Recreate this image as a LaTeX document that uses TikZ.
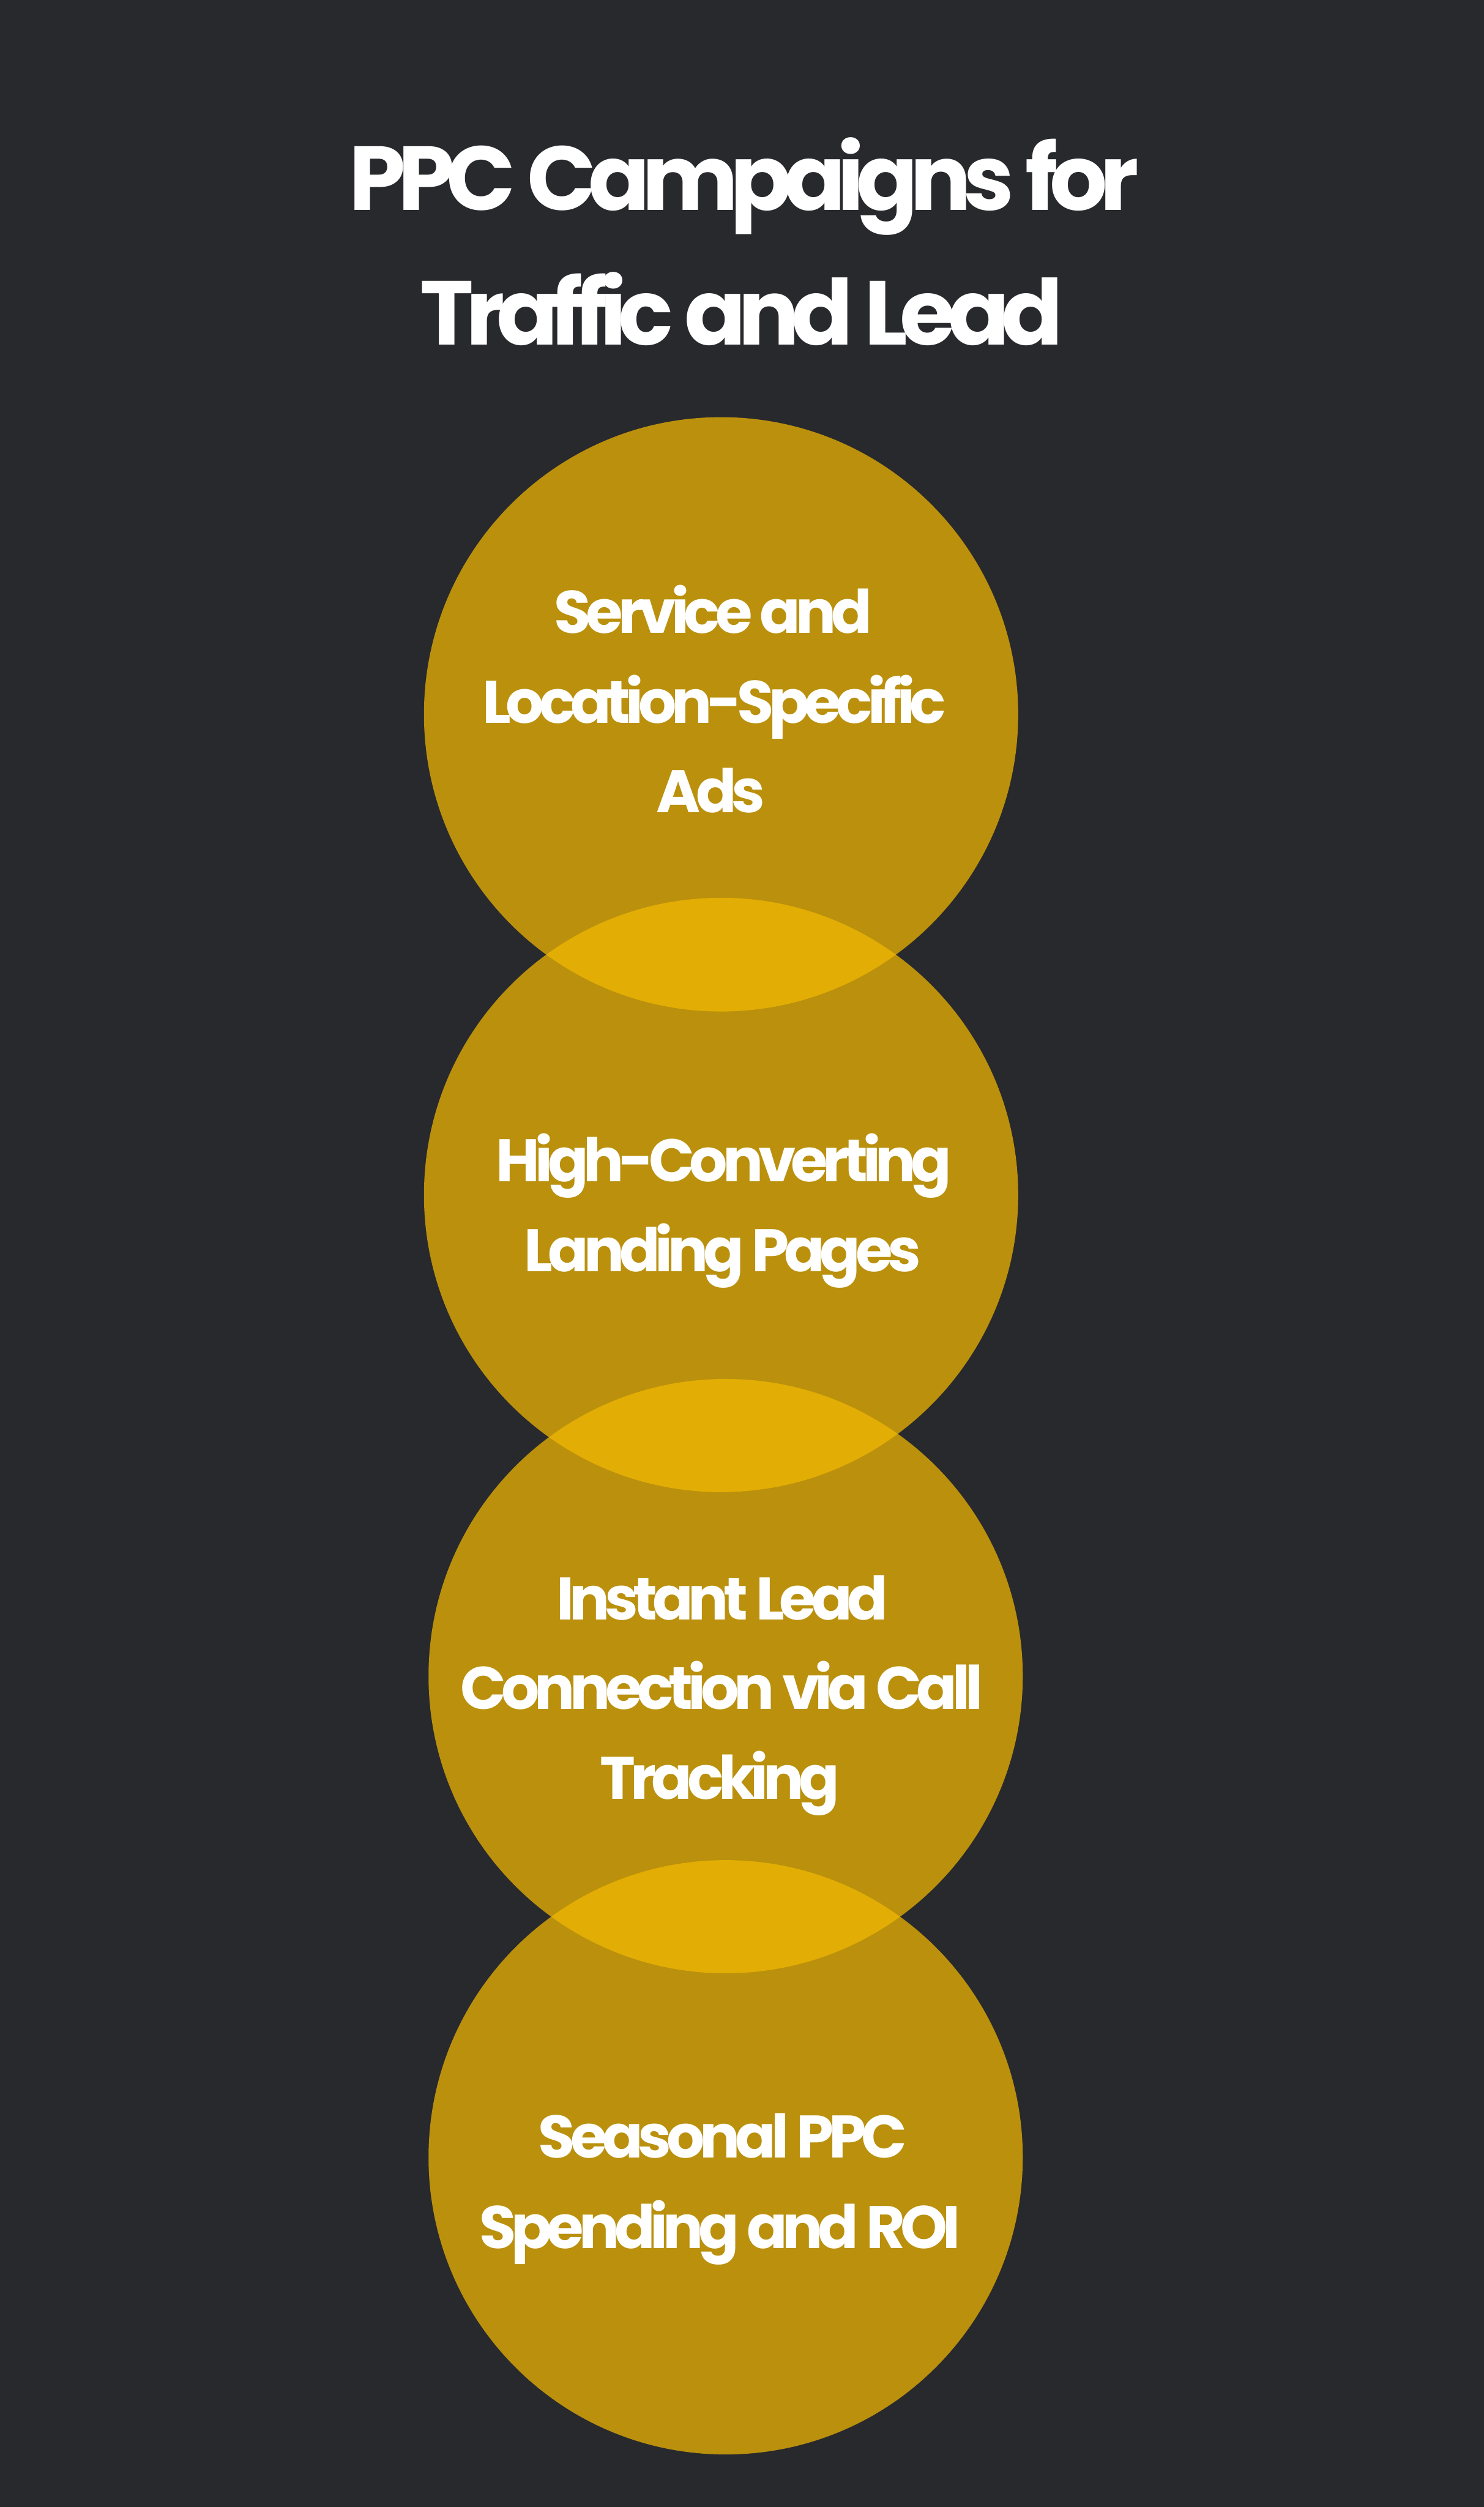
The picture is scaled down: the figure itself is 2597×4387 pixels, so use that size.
\documentclass[tikz,border=0pt]{standalone}
\usepackage{fontspec}
\setmainfont{Poppins}
\definecolor{bgc}{RGB}{40,41,45}
\definecolor{goldc}{RGB}{242,184,1}
\tikzset{
  bubble/.style={circle, minimum size=1040pt, inner sep=0pt, fill=goldc, fill opacity=0.726, draw=none},
  ttl/.style={anchor=base, inner sep=0pt, text=white, font=\fontsize{159}{235}\selectfont\bfseries\addfontfeatures{LetterSpace=-8.8}},
  lbl/.style={anchor=base, inner sep=0pt, text=white, font=\fontsize{105}{157}\selectfont\bfseries\addfontfeatures{LetterSpace=-8.3}}
}
\begin{document}
\begin{tikzpicture}[x=1pt,y=-1pt]
\fill[bgc] (0,0) rectangle (2597,4387);
\useasboundingbox (0,0) rectangle (2597,4387);
\node[ttl] (title1) at (1302,368) {PPC Campaigns for};
\node[ttl] (title2) at (1298,603) {Traffic and Lead};
\node[bubble] (c1) at (1262,1250) {};
\node[bubble] (c2) at (1262,2091) {};
\node[bubble] (c3) at (1270,2933) {};
\node[bubble] (c4) at (1270,3775) {};
\node[lbl] (t1a) at (1248,1108) {Service and};
\node[lbl] (t1b) at (1250,1265) {Location-Specific};
\node[lbl] (t1c) at (1244,1422) {Ads};
\node[lbl] (t2a) at (1267,2068) {High-Converting};
\node[lbl] (t2b) at (1265,2225) {Landing Pages};
\node[lbl] (t3a) at (1264,2834) {Instant Lead};
\node[lbl] (t3b) at (1263,2991) {Connection via Call};
\node[lbl] (t3c) at (1260,3148) {Tracking};
\node[lbl] (t4a) at (1265,3776) {Seasonal PPC};
\node[lbl] (t4b) at (1260,3934) {Spending and ROI};
\end{tikzpicture}
\end{document}
